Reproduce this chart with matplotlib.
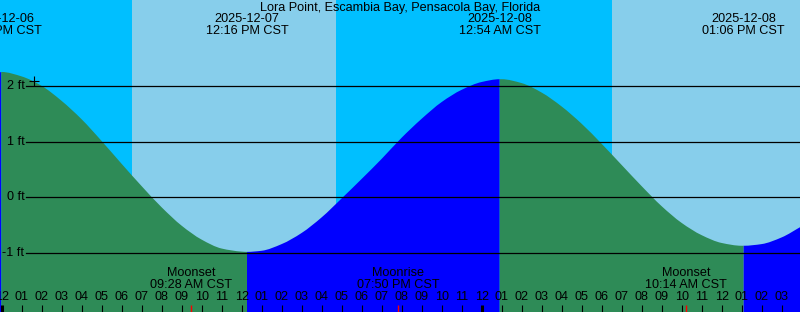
import numpy as np
import pandas as pd
import matplotlib
matplotlib.use("Agg")
import matplotlib.pyplot as plt
from matplotlib.path import Path
from matplotlib.patches import PathPatch

plt.rcParams['font.family'] = ['Liberation Sans', 'DejaVu Sans']
plt.rcParams['font.size'] = 9.1

title = "Lora Point, Escambia Bay, Pensacola Bay, Florida"
day0 = pd.Timestamp("2025-12-07 00:00")

# hourly tide level (ft), from 2025-12-07 00:00 to 2025-12-08 16:00
hourly_levels = [2.25, 2.17, 2.00, 1.73, 1.40, 1.01, 0.60, 0.20, -0.18, -0.51,
                 -0.76, -0.92, -0.975, -0.96, -0.84, -0.64, -0.36, -0.02, 0.33, 0.69,
                 1.07, 1.41, 1.71, 1.93, 2.07, 2.12, 2.05, 1.88, 1.63, 1.32,
                 0.96, 0.58, 0.20, -0.16, -0.46, -0.68, -0.82, -0.87, -0.84, -0.72,
                 -0.52]
start_time = "2025-12-06 23:54"
start_level = 2.24

# high / low tides
tide_times = ["2025-12-06 23:59", "2025-12-07 12:16", "2025-12-08 00:54", "2025-12-08 13:06"]
tide_levels = [2.25, -0.98, 2.12, -0.87]
tide_kind = ["high", "low", "high", "low"]

sunrise = ["2025-12-07 06:31", "2025-12-08 06:31"]
sunset = ["2025-12-07 16:43"]

moon_events = ["Moonset", "Moonrise", "Moonset"]
moon_times = ["2025-12-07 09:28", "2025-12-07 19:50", "2025-12-08 10:14"]

now_time = "2025-12-07 01:37"
now_level = 2.08

ft_levels = [-1, 0, 1, 2]

night_col = "#00BFFF"
day_col = "#87CEEB"
rise_col = "#0000FF"
fall_col = "#2E8B57"


def hrs(s):
    return (pd.Timestamp(s) - day0) / pd.Timedelta(hours=1)


W, H = 800, 312
x0 = -5 / 60            # left edge, hours
x1 = x0 + 40
y_zero, px_ft = 197.3, 55.7


def fy(ypx):
    return 1 - ypx / H


# build the curve
t = [hrs(start_time)] + list(range(len(hourly_levels))) + [hrs(s) for s in tide_times]
lv = [start_level] + hourly_levels + tide_levels
order = np.argsort(t, kind="stable")
t = np.array(t, dtype=float)[order]
lv = np.array(lv)[order]

# monotone tangents so the curve is smooth and never overshoots
hk = np.diff(t)
dk = np.diff(lv) / hk
m = np.zeros_like(lv)
m[0], m[-1] = dk[0], dk[-1]
for k in range(1, len(lv) - 1):
    if dk[k - 1] * dk[k] > 0:
        w1 = 2 * hk[k] + hk[k - 1]
        w2 = hk[k] + 2 * hk[k - 1]
        m[k] = (w1 + w2) / (w1 / dk[k - 1] + w2 / dk[k])


def tide_patch(i0, i1, bottom, color):
    verts = [(t[i0], bottom), (t[i0], lv[i0])]
    codes = [Path.MOVETO, Path.LINETO]
    for k in range(i0, i1):
        h = hk[k]
        verts += [(t[k] + h / 3, lv[k] + m[k] * h / 3),
                  (t[k + 1] - h / 3, lv[k + 1] - m[k + 1] * h / 3),
                  (t[k + 1], lv[k + 1])]
        codes += [Path.CURVE4] * 3
    verts += [(t[i1], bottom), (t[i0], bottom)]
    codes += [Path.LINETO, Path.CLOSEPOLY]
    return PathPatch(Path(verts, codes), facecolor=color, edgecolor="none", lw=0)


fig = plt.figure(figsize=(W / 100, H / 100), dpi=100)
ax = fig.add_axes([0, 0, 1, 1])
ax.set_xlim(x0, x1)
ax.set_ylim((y_zero - H) / px_ft, y_zero / px_ft)
ax.axis("off")

# day / night background
ax.axvspan(x0, x1, color=night_col, lw=0)
rises = [hrs(s) for s in sunrise]
sets = [hrs(s) for s in sunset] + [x1]
for r, s in zip(rises, sets):
    ax.axvspan(r, s, color=day_col, lw=0)

# tide fill, blue while rising, green while falling
bottom = ax.get_ylim()[0]
bounds = [0] + [int(np.searchsorted(t, hrs(s))) for s in tide_times] + [len(t) - 1]
kinds = tide_kind + ["high"]
for i in range(len(bounds) - 1):
    col = rise_col if kinds[i] == "high" else fall_col
    if bounds[i + 1] > bounds[i]:
        ax.add_patch(tide_patch(bounds[i], bounds[i + 1], bottom, col))

# level lines
trans_y = ax.get_yaxis_transform()
for lev in ft_levels:
    ax.axhline(lev, xmin=26 / W, xmax=1, color="black", lw=0.9)
    ax.text(24.5 / W, lev, f"{lev} ft", transform=trans_y, ha="right", va="center")

# current time marker
ax.plot([hrs(now_time)], [now_level], marker="+", color="black", ms=7, mew=0.8)

# title and tide labels
ax.text(0.5, fy(7.5), title, transform=ax.transAxes, ha="center", va="center")
trans_x = ax.get_xaxis_transform()
for s in tide_times:
    ts = pd.Timestamp(s)
    ax.text(hrs(s), fy(19.5), ts.strftime("%Y-%m-%d"), transform=trans_x,
            ha="center", va="center")
    ax.text(hrs(s), fy(31.5), ts.strftime("%I:%M %p CST"), transform=trans_x,
            ha="center", va="center")

# moon events
for name, s in zip(moon_events, moon_times):
    ts = pd.Timestamp(s)
    ax.text(hrs(s), fy(273.5), name, transform=trans_x, ha="center", va="center")
    ax.text(hrs(s), fy(285.5), ts.strftime("%I:%M %p CST"), transform=trans_x,
            ha="center", va="center")
    ax.vlines(hrs(s), 0, 7 / H, transform=trans_x, color="red", lw=1)

# hour ticks and labels
hours = np.arange(0, 40)
for h in hours:
    lbl = (day0 + pd.Timedelta(hours=int(h))).strftime("%I")
    ax.text(h, fy(297.5), lbl, transform=trans_x, ha="center", va="center")
    lw = 2.2 if h % 24 == 0 else 0.8
    ax.vlines(h, 0, 7 / H, transform=trans_x, color="black", lw=lw)

fig.savefig("out.png", dpi=100)
